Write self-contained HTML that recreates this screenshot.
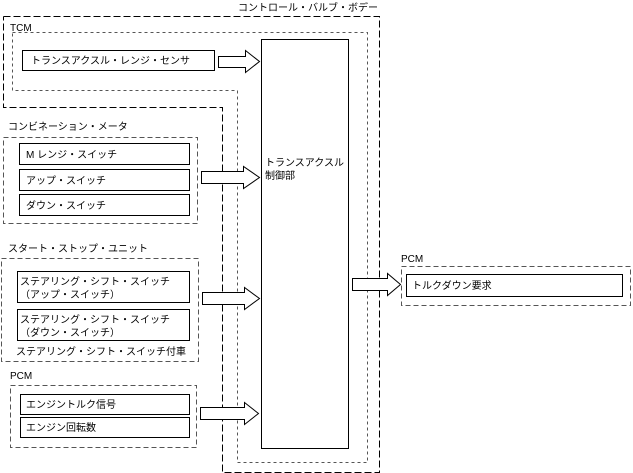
<!DOCTYPE html>
<html><head><meta charset="utf-8"><style>
html,body{margin:0;padding:0;background:#fff;}
svg{display:block;}
text{font-family:"Liberation Sans","Noto Sans CJK JP",sans-serif;font-size:10px;fill:#000;}
</style></head><body>
<svg width="633" height="473" viewBox="0 0 633 473" xmlns="http://www.w3.org/2000/svg">
<g fill="none" stroke="#000" stroke-width="1">
<!-- control valve body outline (long dash) -->
<polyline points="3.5,16.5 379.5,16.5 379.5,472.5 222.5,472.5 222.5,107.5 3.5,107.5 3.5,16.5" stroke="#000" stroke-dasharray="7,3"/>
<!-- TCM (short dash) -->
<polyline points="12.5,32.5 367.5,32.5 367.5,462.5 237.5,462.5 237.5,90.5 12.5,90.5 12.5,32.5" stroke="#555" stroke-dasharray="3,3"/>
<!-- main block -->
<rect x="261.5" y="39.5" width="87" height="409"/>
<!-- TCM box -->
<rect x="22.5" y="50.5" width="192" height="20"/>
<!-- combination meter -->
<rect x="3.5" y="137.5" width="194" height="86" stroke="#555" stroke-dasharray="5,3"/>
<rect x="19.5" y="143.5" width="170" height="21"/>
<rect x="19.5" y="169.5" width="170" height="21"/>
<rect x="19.5" y="194.5" width="170" height="21"/>
<!-- start-stop -->
<rect x="1.5" y="258.5" width="197" height="103" stroke="#555" stroke-dasharray="5,3"/>
<rect x="17.5" y="271.5" width="172" height="31"/>
<rect x="17.5" y="309.5" width="172" height="31"/>
<!-- PCM left -->
<rect x="10.5" y="385.5" width="186" height="62" stroke="#555" stroke-dasharray="5,3"/>
<rect x="20.5" y="394.5" width="169" height="20"/>
<rect x="20.5" y="417.5" width="169" height="20"/>
<!-- PCM right -->
<rect x="401.5" y="266.5" width="229" height="39" stroke="#555" stroke-dasharray="5,3"/>
<rect x="406.5" y="274.5" width="216" height="22"/>
</g>
<!-- arrows -->
<g fill="#fff" stroke="#000" stroke-width="1">
<polygon points="218.5,56.5 245.5,56.5 245.5,50.5 259.5,61.5 245.5,72.5 245.5,67.5 218.5,67.5"/>
<polygon points="201.5,171.5 243.5,171.5 243.5,166.5 259.5,177.5 243.5,188.5 243.5,183.5 201.5,183.5"/>
<polygon points="202.5,292.5 244.5,292.5 244.5,287.5 259.5,298.5 244.5,309.5 244.5,304.5 202.5,304.5"/>
<polygon points="200.5,407.5 244.5,407.5 244.5,402.5 258.5,413.5 244.5,424.5 244.5,419.5 200.5,419.5"/>
<polygon points="352.5,278.5 387.5,278.5 387.5,273.5 400.5,284.5 387.5,295.5 387.5,290.5 352.5,290.5"/>
</g>
<text x="238" y="11">コントロール・バルブ・ボデー</text>
<text x="10" y="31">TCM</text>
<text x="31" y="64">トランスアクスル・レンジ・センサ</text>
<text x="8" y="130">コンビネーション・メータ</text>
<text x="26" y="158">M レンジ・スイッチ</text>
<text x="26" y="184">アップ・スイッチ</text>
<text x="26" y="209">ダウン・スイッチ</text>
<text x="8" y="252">スタート・ストップ・ユニット</text>
<text x="20" y="285">ステアリング・シフト・スイッチ</text>
<text x="20" y="298">（アップ・スイッチ）</text>
<text x="20" y="323">ステアリング・シフト・スイッチ</text>
<text x="20" y="336">（ダウン・スイッチ）</text>
<text x="16" y="355">ステアリング・シフト・スイッチ付車</text>
<text x="10" y="379">PCM</text>
<text x="26" y="408">エンジントルク信号</text>
<text x="26" y="431">エンジン回転数</text>
<text x="265" y="166">トランスアクスル</text>
<text x="265" y="179">制御部</text>
<text x="401" y="262">PCM</text>
<text x="412" y="289">トルクダウン要求</text>
</svg>
</body></html>
